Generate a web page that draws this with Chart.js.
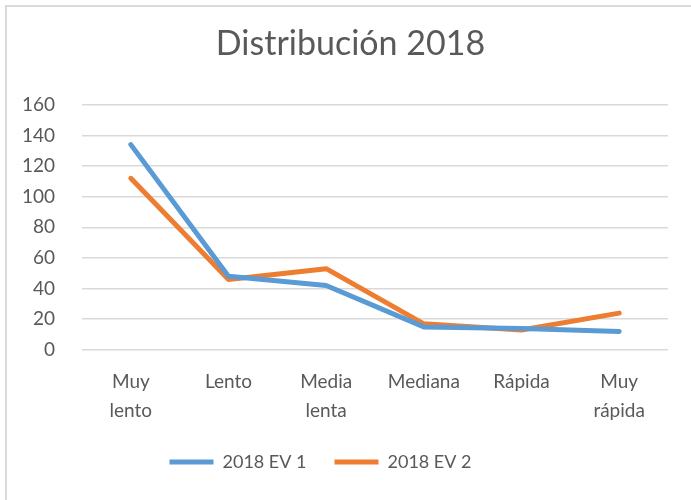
<!DOCTYPE html>
<html>
<head>
<meta charset="utf-8">
<script src="https://cdn.jsdelivr.net/npm/chart.js@4"></script>
<style>
html,body{margin:0;padding:0;background:#fff;}
#wrap{position:relative;width:691px;height:500px;overflow:hidden;}
#frame{position:absolute;left:5px;top:5px;width:800px;height:700px;border:2px solid #d9d9d9;box-sizing:border-box;}
#c{position:absolute;left:0;top:0;}
</style>
</head>
<body>
<div id="wrap"><div id="frame"></div><canvas id="c" width="691" height="500"></canvas></div>
<script>
const categories = [['Muy','lento'], 'Lento', ['Media','lenta'], 'Mediana', 'Rápida', ['Muy','rápida']];
const ev1 = [134, 48, 42, 15, 14, 12];
const ev2 = [112, 46, 53, 17, 13, 24];
const seriesNames = ['2018 EV 1', '2018 EV 2'];
const yTicks = {min: 0, max: 160, step: 20};
const titleText = 'Distribución 2018';

const FONT = 'Lato, "Liberation Sans", sans-serif';
const TXT = '#595959';

const shiftBoxes = {
  id: 'shiftBoxes',
  afterLayout(chart) {
    const l = chart.legend;
    if (l) { l.left -= 16; l.right -= 16; l.top -= 9; l.bottom -= 9; }
    const t = chart.titleBlock;
    if (t) { t.left += 14; t.right += 14; }
  }
};

new Chart(document.getElementById('c'), {
  type: 'line',
  data: {
    labels: categories,
    datasets: [
      {label: seriesNames[0], data: ev1, borderColor: '#5B9BD5', backgroundColor: '#5B9BD5', borderWidth: 5, pointRadius: 0, pointStyle: 'line', borderCapStyle: 'round', borderJoinStyle: 'round', tension: 0},
      {label: seriesNames[1], data: ev2, borderColor: '#ED7D31', backgroundColor: '#ED7D31', borderWidth: 5, pointRadius: 0, pointStyle: 'line', borderCapStyle: 'round', borderJoinStyle: 'round', tension: 0}
    ]
  },
  options: {
    responsive: false,
    animation: false,
    devicePixelRatio: 1,
    layout: {padding: {left: 5, right: 23, top: 18, bottom: 10}},
    plugins: {
      title: {display: true, text: titleText, color: TXT, font: {family: FONT, size: 34, weight: 'normal'}, padding: {top: 6, bottom: 40}},
      legend: {
        position: 'bottom',
        labels: {color: TXT, font: {family: FONT, size: 18}, usePointStyle: true, pointStyleWidth: 44, boxHeight: 18, padding: 28}
      },
      tooltip: {enabled: false}
    },
    scales: {
      x: {
        grid: {display: false},
        border: {display: false},
        offset: true,
        ticks: {color: TXT, font: {family: FONT, size: 19, lineHeight: 1.53}, maxRotation: 0, autoSkip: false, padding: 9}
      },
      y: {
        min: yTicks.min, max: yTicks.max,
        afterFit(scale) { scale.width = 77; },
        grid: {color: '#D9D9D9', lineWidth: 1.5, drawTicks: false},
        border: {display: false},
        ticks: {stepSize: yTicks.step, color: TXT, font: {family: FONT, size: 19}, padding: 27}
      }
    }
  },
  plugins: [shiftBoxes]
});
</script>
</body>
</html>
